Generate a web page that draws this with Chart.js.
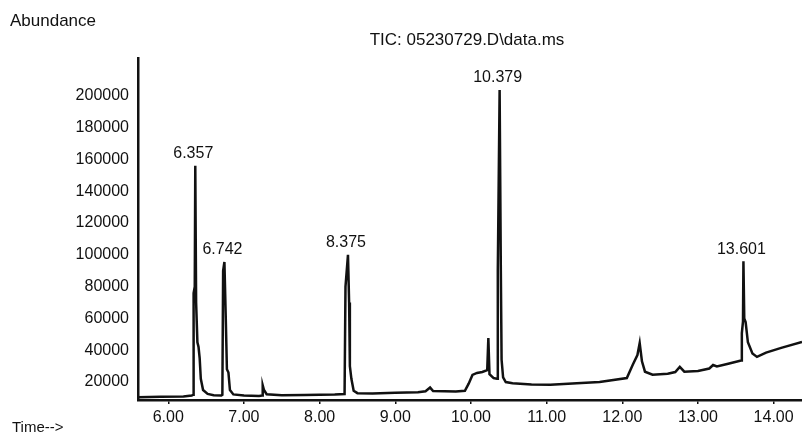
<!DOCTYPE html>
<html lang="en">

<head>
    <meta charset="UTF-8">
    <title>TIC: 05230729.D\data.ms</title>
    <script src="https://cdn.jsdelivr.net/npm/chart.js"></script>
    <style>
        body { margin: 0; background: #fff; }
        .grafico { width: 802px; height: 439px; }
    </style>
</head>

<body>
    <div class="grafico">
        <canvas id="tic"></canvas>
    </div>

    <script>
        const tempos = [
            5.60, 5.90, 6.20, 6.31, 6.330, 6.335, 6.350, 6.357, 6.368, 6.385, 6.400, 6.415, 6.430, 6.460, 6.520, 6.600,
            6.700, 6.715, 6.725, 6.742, 6.760, 6.775, 6.795, 6.815, 6.860, 7.000, 7.200, 7.240, 7.248, 7.265, 7.300,
            7.500, 7.800, 8.200, 8.330, 8.342, 8.375, 8.390, 8.400, 8.420, 8.450, 8.500, 8.700, 9.000, 9.300, 9.400,
            9.460, 9.500, 9.800, 9.920, 9.970, 10.020, 10.080, 10.150, 10.215, 10.230, 10.245, 10.300, 10.345, 10.355,
            10.379, 10.395, 10.405, 10.425, 10.460, 10.550, 10.800, 11.050, 11.400, 11.700, 12.060, 12.140, 12.200,
            12.230, 12.260, 12.300, 12.400, 12.600, 12.700, 12.760, 12.820, 13.000, 13.150, 13.200, 13.250, 13.400,
            13.570, 13.580, 13.595, 13.601, 13.612, 13.630, 13.660, 13.720, 13.780, 13.900, 14.100, 14.375
        ];
        const abundancia = [
            10500, 10700, 10900, 11500, 12000, 76000, 80000, 156000, 70000, 45000, 42000, 35000, 22000, 15000, 12500, 11700,
            11500, 12000, 90000, 95500, 60000, 28000, 26000, 15000, 12200, 11500, 11200, 11500, 18000, 15000, 12300,
            11700, 11800, 12200, 12500, 80000, 100000, 70000, 30000, 22000, 14500, 13000, 12800, 13200, 13600, 14200,
            16500, 14300, 14000, 14500, 19000, 24500, 25700, 26300, 27500, 47700, 25000, 22500, 22000, 90000,
            203700, 90000, 34000, 23000, 20000, 19300, 18500, 18300, 19300, 20000, 22500, 31000, 37000,
            44500, 33000, 26500, 24600, 25200, 26300, 29500, 26500, 27000, 28500, 30700, 29800, 31500,
            33500, 50800, 58000, 96000, 60000, 57700, 45000, 38000, 35800, 38500, 41500, 45200
        ];

        // picos marcados
        const picosTempo = [6.357, 6.742, 8.375, 10.379, 13.601];
        const picosTexto = ['6.357', '6.742', '8.375', '10.379', '13.601'];

        // marcas dos eixos
        const ticksX = [6, 7, 8, 9, 10, 11, 12, 13, 14];
        const ticksY = [20000, 40000, 60000, 80000, 100000, 120000, 140000, 160000, 180000, 200000];

        const fonte = '"Liberation Sans", Arial, sans-serif';
        const cor = '#111';

        // textos soltos: Abundance, titulo, Time--> e rotulos dos picos
        const textos = {
            id: 'textos',
            afterDraw(chart) {
                const ctx = chart.ctx;
                const x = chart.scales.x;
                const y = chart.scales.y;
                ctx.save();
                ctx.fillStyle = cor;
                ctx.font = '17px ' + fonte;
                ctx.textAlign = 'left';
                ctx.textBaseline = 'alphabetic';
                ctx.fillText('Abundance', 10, 26);
                ctx.font = '15px ' + fonte;
                ctx.fillText('Time-->', 12, 432);
                ctx.font = '17px ' + fonte;
                ctx.textAlign = 'center';
                ctx.fillText('TIC: 05230729.D\\data.ms', 467, 45);

                ctx.font = '16px ' + fonte;
                ctx.textBaseline = 'bottom';
                for (let i = 0; i < picosTempo.length; i++) {
                    const k = tempos.indexOf(picosTempo[i]);
                    ctx.fillText(picosTexto[i], x.getPixelForValue(picosTempo[i]) - 2, y.getPixelForValue(abundancia[k]) - 4);
                }
                ctx.restore();
            }
        };

        const dados = {
            datasets: [{
                label: 'TIC',
                data: tempos.map((t, i) => ({ x: t, y: abundancia[i] })),
                borderColor: cor,
                borderWidth: 2.5,
                pointRadius: 0,
                tension: 0,
                fill: false
            }]
        };

        const config = {
            type: 'line',
            data: dados,
            options: {
                responsive: true,
                maintainAspectRatio: false,
                animation: false,
                layout: { padding: { top: 58, left: 0, right: 0, bottom: 0 } },
                plugins: {
                    legend: { display: false },
                    tooltip: { enabled: false }
                },
                scales: {
                    x: {
                        type: 'linear',
                        min: 5.6,
                        max: 14.375,
                        afterBuildTicks: s => { s.ticks = ticksX.map(v => ({ value: v })); },
                        afterFit: s => { s.height = 39; },
                        grid: { drawOnChartArea: false, drawTicks: true, tickLength: 4, color: cor, lineWidth: 1.5 },
                        border: { color: cor, width: 2.5 },
                        ticks: {
                            color: cor,
                            font: { family: fonte, size: 16 },
                            padding: 4,
                            autoSkip: false,
                            maxRotation: 0,
                            callback: v => Number(v).toFixed(2)
                        }
                    },
                    y: {
                        type: 'linear',
                        min: 8700,
                        max: 223800,
                        afterBuildTicks: s => { s.ticks = ticksY.map(v => ({ value: v })); },
                        afterFit: s => { s.width = 138; },
                        grid: { display: false, drawTicks: false },
                        border: { color: cor, width: 2.5 },
                        ticks: {
                            color: cor,
                            font: { family: fonte, size: 16 },
                            padding: 9,
                            callback: v => String(v)
                        }
                    }
                }
            },
            plugins: [textos]
        };

        let grafico = new Chart(document.getElementById('tic'), config);
    </script>
</body>

</html>
